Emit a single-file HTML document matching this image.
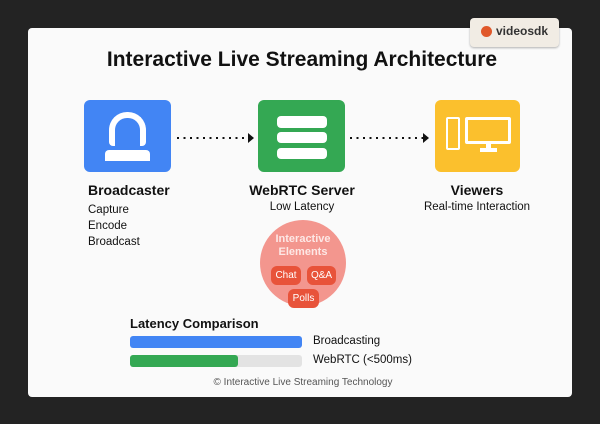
<!DOCTYPE html>
<html><head><style>
body{margin:0;width:600px;height:424px;background:#232323;position:relative;overflow:hidden;font-family:"Liberation Sans",sans-serif;}
.a{position:absolute;}
.card{left:28px;top:28px;width:544px;height:369px;background:#fafafa;border-radius:4px;}
.t{white-space:nowrap;color:#111;}
.c{transform:translateX(-50%);text-align:center;}
</style></head><body>
<div class="a card"></div>
<div class="a" style="left:470px;top:18px;width:89px;height:29px;background:#f1ece4;border-radius:4px;box-shadow:0 1px 2px rgba(0,0,0,.3)"></div>
<div class="a" style="left:481px;top:26px;width:11px;height:11px;border-radius:50%;background:#e0582a"></div>
<div class="a t" style="left:496px;top:24px;font-size:12px;font-weight:bold;color:#333">videosdk</div>
<div class="a t c" style="left:302px;top:48px;font-size:21px;font-weight:bold">Interactive Live Streaming Architecture</div>

<div class="a" style="left:84px;top:100px;width:87px;height:72px;background:#4285f4;border-radius:6px"></div>
<div class="a" style="left:109px;top:112px;width:25px;height:28px;border:6px solid #fff;border-bottom:none;border-radius:18px 18px 4px 4px"></div>
<div class="a" style="left:105px;top:150px;width:45px;height:11px;background:#fff;border-radius:4px 4px 0 0"></div>

<div class="a" style="left:258px;top:100px;width:87px;height:72px;background:#34a853;border-radius:6px"></div>
<div class="a" style="left:277px;top:116px;width:50px;height:12px;background:#fff;border-radius:4px"></div>
<div class="a" style="left:277px;top:132px;width:50px;height:11px;background:#fff;border-radius:4px"></div>
<div class="a" style="left:277px;top:148px;width:50px;height:11px;background:#fff;border-radius:4px"></div>

<div class="a" style="left:435px;top:100px;width:85px;height:72px;background:#fbc02d;border-radius:6px"></div>
<div class="a" style="left:446px;top:117px;width:10px;height:29px;border:2.5px solid #fff;border-radius:2px"></div>
<div class="a" style="left:465px;top:117px;width:40px;height:21px;border:3px solid #fff;border-radius:2px"></div>
<div class="a" style="left:486px;top:143px;width:5px;height:6px;background:#fff"></div>
<div class="a" style="left:480px;top:148px;width:17px;height:4px;background:#fff"></div>

<svg class="a" style="left:0;top:0" width="600" height="424">
<line x1="177" y1="138" x2="248" y2="138" stroke="#111" stroke-width="2" stroke-dasharray="2 4.5"/>
<polygon points="248,133 254,138 248,143" fill="#111"/>
<line x1="350" y1="138" x2="423" y2="138" stroke="#111" stroke-width="2" stroke-dasharray="2 4.5"/>
<polygon points="423,133 429,138 423,143" fill="#111"/>
<circle cx="303" cy="263" r="43" fill="#f28b82" opacity="0.9"/>
</svg>

<div class="a t" style="left:88px;top:182px;font-size:14px;font-weight:bold">Broadcaster</div>
<div class="a t" style="left:88px;top:202px;font-size:11.5px;line-height:16px">Capture<br>Encode<br>Broadcast</div>
<div class="a t c" style="left:302px;top:182px;font-size:14px;font-weight:bold">WebRTC Server</div>
<div class="a t c" style="left:302px;top:201px;font-size:11.5px">Low Latency</div>
<div class="a t c" style="left:477px;top:182px;font-size:14px;font-weight:bold">Viewers</div>
<div class="a t c" style="left:477px;top:201px;font-size:11.5px">Real-time Interaction</div>

<div class="a t c" style="left:303px;top:233px;font-size:11px;line-height:13px;color:#fde8e6;font-weight:bold">Interactive<br>Elements</div>
<div class="a t" style="left:271px;top:266px;width:30px;height:19px;line-height:19px;background:#e8533a;border-radius:6px;color:#fff;font-size:10px;text-align:center">Chat</div>
<div class="a t" style="left:307px;top:266px;width:29px;height:19px;line-height:19px;background:#e8533a;border-radius:6px;color:#fff;font-size:10px;text-align:center">Q&amp;A</div>
<div class="a t" style="left:288px;top:289px;width:31px;height:19px;line-height:19px;background:#e8533a;border-radius:6px;color:#fff;font-size:10px;text-align:center">Polls</div>

<div class="a t" style="left:130px;top:316px;font-size:13px;font-weight:bold">Latency Comparison</div>
<div class="a" style="left:130px;top:336px;width:172px;height:12px;background:#4285f4;border-radius:3px"></div>
<div class="a" style="left:130px;top:355px;width:172px;height:12px;background:#e3e3e3;border-radius:3px"></div>
<div class="a" style="left:130px;top:355px;width:108px;height:12px;background:#34a853;border-radius:3px"></div>
<div class="a t" style="left:313px;top:335px;font-size:11.5px">Broadcasting</div>
<div class="a t" style="left:313px;top:354px;font-size:11.5px">WebRTC (&lt;500ms)</div>
<div class="a t c" style="left:303px;top:377px;font-size:10px;color:#555">© Interactive Live Streaming Technology</div>
</body></html>
